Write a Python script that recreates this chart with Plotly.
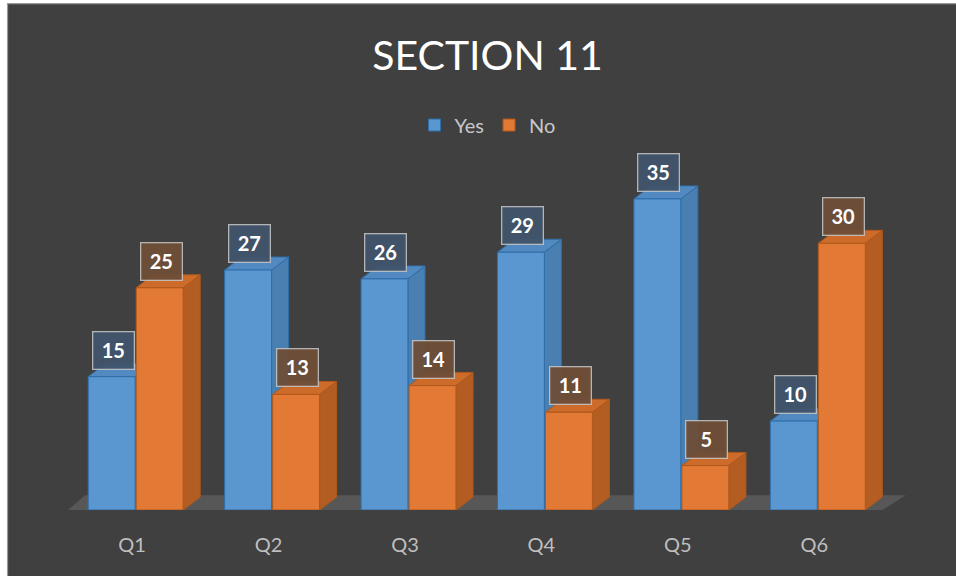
import plotly.graph_objects as go

# Survey results for section 11
categories = ["Q1", "Q2", "Q3", "Q4", "Q5", "Q6"]
yes_values = [15, 27, 26, 29, 35, 10]
no_values = [25, 13, 14, 11, 5, 30]

BG = "#404040"
BLUE_FRONT, BLUE_EDGE, BLUE_SIDE, BLUE_TOP = "#5a96d0", "#2f6ea8", "#4a7fb2", "#5189c0"
ORANGE_FRONT, ORANGE_EDGE, ORANGE_SIDE, ORANGE_TOP = "#e27934", "#b0581c", "#b35d22", "#cc6b2a"

BAR_W = 0.344          # bar width in category units
YES_OFF = -0.352       # left edge of "Yes" bar relative to category centre
NO_OFF = 0.0           # left edge of "No" bar
DX, DY = 0.125, 1.46   # 3D depth offset (x in category units, y in value units)
X_RANGE = [-0.5, 5.65]
Y_RANGE = [0, 40.5]

idx = list(range(len(categories)))

fig = go.Figure()

fig.add_trace(go.Bar(
    x=idx, y=yes_values, name="Yes", width=BAR_W, offset=YES_OFF,
    marker=dict(color=BLUE_FRONT, line=dict(color=BLUE_EDGE, width=1)),
    hoverinfo="skip",
))
fig.add_trace(go.Bar(
    x=idx, y=no_values, name="No", width=BAR_W, offset=NO_OFF,
    marker=dict(color=ORANGE_FRONT, line=dict(color=ORANGE_EDGE, width=1)),
    hoverinfo="skip",
))

shapes = []

# chart frame
shapes.append(dict(type="rect", xref="paper", yref="paper",
                   x0=(7.5 - 68) / 839.5, x1=(970 - 68) / 839.5,
                   y0=(510.5 - 590) / 360.5, y1=(510.5 - 3.5) / 360.5,
                   fillcolor=BG, line=dict(color="#9a9a9a", width=1.2), layer="below"))

# floor slab
x_lo, x_hi = X_RANGE[0], 5.45
shapes.append(dict(type="path", xref="x", yref="y", layer="below",
                   path=f"M {x_lo},0 L {x_hi},-0.2 L {x_hi + 0.19},{DY + 0.2} "
                        f"L {x_lo + DX},{DY + 0.2} Z",
                   fillcolor="#575757", line=dict(width=0)))


def box_faces(vals, off, side_col, top_col, edge_col):
    out = []
    for i, v in zip(idx, vals):
        x0 = i + off
        x1 = x0 + BAR_W
        out.append(dict(type="path", xref="x", yref="y", layer="below",
                        path=f"M {x1},0 L {x1 + DX},{DY} L {x1 + DX},{v + DY} L {x1},{v} Z",
                        fillcolor=side_col, line=dict(color=edge_col, width=1)))
        out.append(dict(type="path", xref="x", yref="y", layer="below",
                        path=f"M {x0},{v} L {x0 + DX},{v + DY} L {x1 + DX},{v + DY} L {x1},{v} Z",
                        fillcolor=top_col, line=dict(color=edge_col, width=1)))
    return out


shapes += box_faces(yes_values, YES_OFF, BLUE_SIDE, BLUE_TOP, BLUE_EDGE)
shapes += box_faces(no_values, NO_OFF, ORANGE_SIDE, ORANGE_TOP, ORANGE_EDGE)

# value labels in boxes
annotations = []
for vals, off, bg in ((yes_values, YES_OFF, "rgba(64,84,106,0.95)"),
                      (no_values, NO_OFF, "rgba(110,78,56,0.95)")):
    for i, v in zip(idx, vals):
        annotations.append(dict(
            x=i + off + BAR_W / 2 + 0.01, y=v, xref="x", yref="y",
            text=f"<b>{v}</b>", showarrow=False,
            yanchor="bottom", yshift=7,
            width=40, height=36, borderpad=0, borderwidth=1.3,
            bgcolor=bg, bordercolor="rgba(200,200,200,0.85)",
            font=dict(family="Lato", size=20, color="#ffffff"),
        ))

fig.update_layout(
    width=956, height=576,
    margin=dict(l=68, r=48.5, t=150, b=65.5),
    paper_bgcolor="#ffffff", plot_bgcolor=BG,
    barmode="overlay",
    shapes=shapes, annotations=annotations,
    title=dict(text="SECTION 11", x=0.5, xref="paper", xanchor="center",
               y=1 - 56 / 576, yanchor="middle",
               font=dict(family="Lato", size=41, color="#ffffff")),
    legend=dict(orientation="h", x=0.5, xanchor="center",
                y=(510.5 - 125) / 360.5, yanchor="middle",
                font=dict(family="Lato", size=20, color="#c8c8c8"),
                bgcolor="rgba(0,0,0,0)", itemwidth=30, traceorder="normal"),
    xaxis=dict(range=X_RANGE, tickvals=[i - 0.03 for i in idx], ticktext=categories,
               showgrid=False, zeroline=False, showline=False,
               ticks="outside", ticklen=17, tickcolor="rgba(0,0,0,0)",
               tickfont=dict(family="Lato", size=20, color="#bfbfbf"),
               fixedrange=True),
    yaxis=dict(range=Y_RANGE, visible=False, fixedrange=True),
    showlegend=True,
)

fig.write_html("out.html")
